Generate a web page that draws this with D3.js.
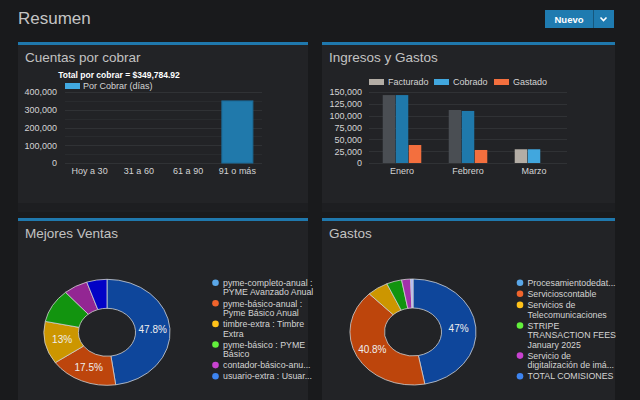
<!DOCTYPE html>
<html>
<head>
<meta charset="utf-8">
<script src="https://cdn.jsdelivr.net/npm/d3@7"></script>
<style>
  body { margin: 0; background: #191a1c; }
  svg { display: block; font-family: "Liberation Sans", Arial, sans-serif; }
</style>
</head>
<body>
<div id="chart"></div>
<script>
// DATA
const cuentasCats = ["Hoy a 30", "31 a 60", "61 a 90", "91 o más"];
const cuentasValues = [0, 0, 0, 349784.92];
const cuentasTicks = [0, 100000, 200000, 300000, 400000];

const months = ["Enero", "Febrero", "Marzo"];
const seriesNames = ["Facturado", "Cobrado", "Gastado"];
const facturado = [143500, 112000, 29000];
const cobrado = [143500, 110000, 29000];
const gastado = [38000, 27500, 0];
const ingresosTicks = [0, 25000, 50000, 75000, 100000, 125000, 150000];

const ventasLabels = [
  ["pyme-completo-anual :", "PYME Avanzado Anual"],
  ["pyme-básico-anual :", "Pyme Básico Anual"],
  ["timbre-extra : Timbre", "Extra"],
  ["pyme-básico : PYME", "Básico"],
  ["contador-básico-anu..."],
  ["usuario-extra : Usuar..."]
];
const ventasValues = [47.8, 17.5, 13, 10.3, 6.2, 5.2];

const gastosLabels = [
  ["Procesamientodedat..."],
  ["Servicioscontable"],
  ["Servicios de", "Telecomunicaciones"],
  ["STRIPE", "TRANSACTION FEES", "January 2025"],
  ["Servicio de", "digitalización de imá..."],
  ["TOTAL COMISIONES"]
];
const gastosValues = [47, 40.8, 5.4, 3.9, 2.3, 0.6];

// STYLE
const panelBg = "#222326";
const accent = "#1f78ad";
const gridColor = "#303235";
const tickColor = "#d4d4d4";
const seriesLegend = ["#b3ada5", "#41a7de", "#f36f3e"];
const seriesDim = ["#4a4e53", "#1f79ab", "#f36f3e"];
const dimMonths = ["Enero", "Febrero"];
const ventasSlice = ["#0e469b", "#bd450c", "#cc9600", "#12940f", "#932693", "#0202c6"];
const gastosSlice = ["#0e469b", "#bd450c", "#cc9600", "#12940f", "#a331ab", "#a9b4ff"];
const legendDots = ["#5aa7e8", "#f0642c", "#ffc21a", "#62f03c", "#c842d0", "#3d84f0"];

const svg = d3.select("#chart").append("svg")
  .attr("width", 640).attr("height", 400);

svg.append("rect").attr("width", 640).attr("height", 400).attr("fill", "#191a1c");

// header
svg.append("text").attr("x", 18).attr("y", 24)
  .text("Resumen").attr("fill", "#c4c4c4").style("font-size", "17px");
svg.append("rect").attr("x", 545).attr("y", 10).attr("width", 69).attr("height", 18)
  .attr("fill", "#1f7bb0");
svg.append("line").attr("x1", 593.5).attr("x2", 593.5).attr("y1", 10).attr("y2", 28)
  .attr("stroke", "#16577d");
svg.append("text").attr("x", 569).attr("y", 22.5).attr("text-anchor", "middle")
  .text("Nuevo").attr("fill", "#fff").style("font-size", "9.5px").style("font-weight", "bold");
svg.append("path").attr("d", "M600.5,17.5 L603.5,20.5 L606.5,17.5")
  .attr("fill", "none").attr("stroke", "#fff").attr("stroke-width", 1.6);

// panels
function panel(x, y, w, h, bodyH, title) {
  svg.append("rect").attr("x", x).attr("y", y).attr("width", w).attr("height", h).attr("fill", "#1d1e21");
  svg.append("rect").attr("x", x).attr("y", y).attr("width", w).attr("height", bodyH).attr("fill", panelBg);
  svg.append("rect").attr("x", x).attr("y", y).attr("width", w).attr("height", 3).attr("fill", accent);
  svg.append("text").attr("x", x + 7).attr("y", y + 20)
    .text(title).attr("fill", "#c2c2c2").style("font-size", "13.5px");
}
panel(18, 42, 290, 170, 161, "Cuentas por cobrar");
panel(322, 42, 293, 170, 161, "Ingresos y Gastos");
panel(18, 218, 290, 182, 182, "Mejores Ventas");
panel(322, 218, 293, 182, 182, "Gastos");

function yAxisGrid(g, y, ticks, x0, x1, labelX, minor) {
  minor.forEach(v => {
    g.append("line").attr("x1", x0).attr("x2", x1).attr("y1", Math.round(y(v)) + 0.5).attr("y2", Math.round(y(v)) + 0.5)
      .attr("stroke", "#292b2e");
  });
  const axis = g.append("g").attr("transform", `translate(${labelX + 4},0)`)
    .call(d3.axisLeft(y).tickValues(ticks).tickSize(0).tickPadding(4).tickFormat(d3.format(",")));
  axis.select(".domain").remove();
  axis.selectAll("text").attr("fill", tickColor).style("font-size", "9px");
  ticks.forEach(v => {
    g.append("line").attr("x1", x0).attr("x2", x1).attr("y1", Math.round(y(v)) + 0.5).attr("y2", Math.round(y(v)) + 0.5)
      .attr("stroke", gridColor);
  });
}

function xAxis(g, x, yPos) {
  const axis = g.append("g").attr("transform", `translate(0,${yPos})`)
    .call(d3.axisBottom(x).tickSize(0).tickPadding(5));
  axis.select(".domain").remove();
  axis.selectAll("text").attr("fill", tickColor).style("font-size", "9px");
}

// CHART 1: Cuentas por cobrar
{
  const g = svg.append("g");
  const x = d3.scaleBand().domain(cuentasCats).range([65, 262]).paddingInner(0.37).paddingOuter(0.185);
  const y = d3.scaleLinear().domain([0, 400000]).range([163, 92]);
  yAxisGrid(g, y, cuentasTicks, 65, 262, 57, [50000, 150000, 250000, 350000]);
  g.selectAll(".bar").data(cuentasCats).enter().append("rect")
    .attr("x", d => x(d)).attr("width", x.bandwidth())
    .attr("y", (d, i) => y(cuentasValues[i]))
    .attr("height", (d, i) => y(0) - y(cuentasValues[i]))
    .attr("fill", "#2079ab").attr("stroke", "#1b6a97");
  xAxis(g, x, 163);
  g.append("text").attr("x", 119).attr("y", 77.5).attr("text-anchor", "middle")
    .text("Total por cobrar = $" + d3.format(",.2f")(d3.sum(cuentasValues)))
    .attr("fill", "#fff").style("font-size", "8.5px").style("font-weight", "bold");
  g.append("rect").attr("x", 65).attr("y", 83).attr("width", 15).attr("height", 6).attr("fill", "#41a9e1");
  g.append("text").attr("x", 83).attr("y", 88.5).text("Por Cobrar (días)")
    .attr("fill", tickColor).style("font-size", "9px");
}

// CHART 2: Ingresos y Gastos
{
  const g = svg.append("g");
  const x0 = d3.scaleBand().domain(months).range([369, 567]).paddingInner(0.4).paddingOuter(0.2);
  const x1 = d3.scaleBand().domain(seriesNames).range([0, x0.bandwidth()]).padding(0.04);
  const y = d3.scaleLinear().domain([0, 150000]).range([163, 92]);
  yAxisGrid(g, y, ingresosTicks, 369, 567, 362, []);
  const seriesValues = [facturado, cobrado, gastado];
  seriesNames.forEach((s, si) => {
    g.selectAll(".b" + si).data(months).enter().append("rect")
      .attr("x", d => x0(d) + x1(s)).attr("width", x1.bandwidth())
      .attr("y", (d, i) => y(seriesValues[si][i]))
      .attr("height", (d, i) => y(0) - y(seriesValues[si][i]))
      .attr("fill", d => dimMonths.includes(d) ? seriesDim[si] : seriesLegend[si]);
  });
  xAxis(g, x0, 163);
  const lx = [369, 434, 494];
  seriesNames.forEach((s, i) => {
    g.append("rect").attr("x", lx[i]).attr("y", 79).attr("width", 15).attr("height", 6)
      .attr("fill", seriesLegend[i]);
    g.append("text").attr("x", lx[i] + 19).attr("y", 85).text(s)
      .attr("fill", tickColor).style("font-size", "9px");
  });
}

// DONUTS
function donut(cx, cy, values, labels, sliceColors, legendX) {
  const g = svg.append("g").attr("transform", `translate(${cx},${cy})`);
  const sx = 1.19;
  const pie = d3.pie().sort(null).value(d => d)(values);
  const arc = d3.arc().innerRadius(24).outerRadius(53);
  g.append("g").attr("transform", `scale(${sx},1)`)
    .selectAll("path").data(pie).enter().append("path")
    .attr("d", arc).attr("fill", (d, i) => sliceColors[i])
    .attr("stroke", "#d0d0d0").attr("stroke-width", 0.8)
    .attr("vector-effect", "non-scaling-stroke");
  g.selectAll(".lbl").data(pie.filter(d => d.data >= 12)).enter().append("text")
    .attr("x", d => arc.centroid(d)[0] * sx)
    .attr("y", d => arc.centroid(d)[1] + 3.5)
    .attr("text-anchor", "middle")
    .text(d => d.data + "%")
    .attr("fill", "#eee").style("font-size", "10px");

  let yy = 282.7;
  labels.forEach((lines, i) => {
    svg.append("circle").attr("cx", legendX).attr("cy", yy).attr("r", 3.3).attr("fill", legendDots[i]);
    lines.forEach((t, j) => {
      svg.append("text").attr("x", legendX + 7.5).attr("y", yy + 3.2 + j * 9.5)
        .text(t).attr("fill", "#d4d4d4").style("font-size", "8.8px");
    });
    yy += lines.length * 9.5 + 1.6;
  });
}
donut(107, 332.3, ventasValues, ventasLabels, ventasSlice, 215.5);
donut(413, 332, gastosValues, gastosLabels, gastosSlice, 520);
</script>
</body>
</html>
